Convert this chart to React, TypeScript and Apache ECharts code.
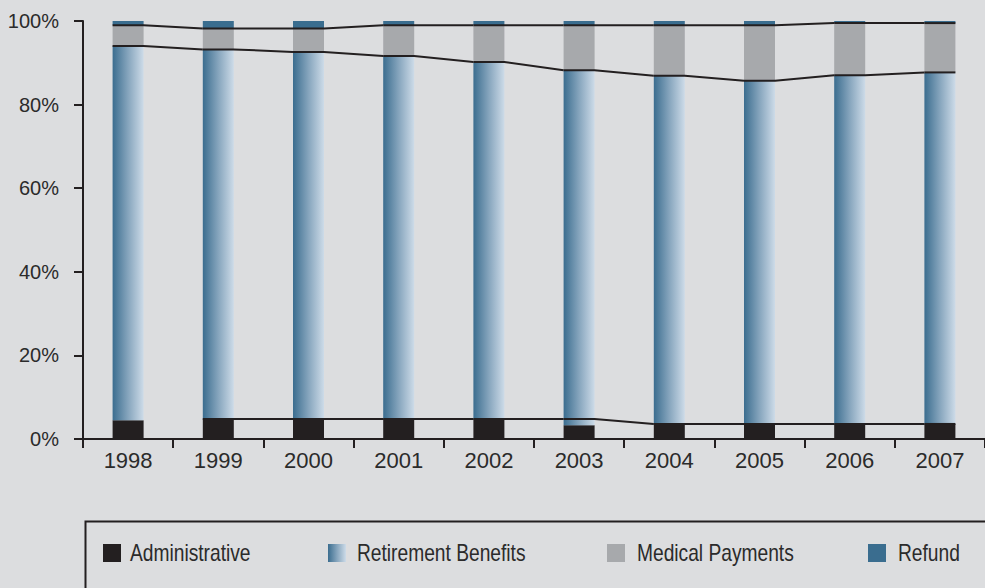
import React, { useEffect, useRef } from "react";
import * as echarts from "echarts";

const years = ["1998", "1999", "2000", "2001", "2002", "2003", "2004", "2005", "2006", "2007"];
const administrative = [4.5, 4.8, 4.8, 4.8, 4.8, 3.3, 3.6, 3.6, 3.6, 3.6];
const retirementBenefits = [89.5, 88.4, 87.8, 86.8, 85.4, 84.9, 83.3, 82.1, 83.4, 84.1];
const medicalPayments = [5.0, 5.0, 5.6, 7.4, 8.8, 10.8, 12.1, 13.3, 12.5, 11.8];
const refund = [1.0, 1.8, 1.8, 1.0, 1.0, 1.0, 1.0, 1.0, 0.5, 0.5];

// series lines drawn across the stacked bars (levels)
const lineUpper = [99.0, 98.2, 98.2, 99.0, 99.0, 99.0, 99.0, 99.0, 99.5, 99.5];
const lineMiddle = [94.0, 93.2, 92.6, 91.6, 90.2, 88.2, 86.9, 85.7, 87.0, 87.7];
const lineLower: (number | null)[] = [null, 4.8, 4.8, 4.8, 4.8, 4.8, 3.6, 3.6, 3.6, 3.6];

const seriesNames = ["Administrative", "Retirement Benefits", "Medical Payments", "Refund"];

const BAR_WIDTH = 31;
const DARK = "#231f20";
const BLUE = "#3a6d8f";
const GREY = "#a7a9ac";
const BG = "#dcdddf";
const TEXT = "#2b2b2b";

function connector(values: (number | null)[]) {
  const data: any[] = [];
  values.forEach((v, i) => {
    if (v == null) return;
    const next = i + 1 < values.length ? values[i + 1] : null;
    data.push([i, v, next == null ? "-" : next]);
  });
  return {
    type: "custom",
    coordinateSystem: "cartesian2d",
    silent: true,
    z: 10,
    encode: { x: 0, y: 1 },
    data,
    renderItem: (params: any, api: any) => {
      const i = api.value(0);
      const v = api.value(1);
      const n = api.value(2);
      const p = api.coord([i, v]);
      const half = BAR_WIDTH / 2;
      const pts: number[][] = [
        [p[0] - half, p[1]],
        [p[0] + half, p[1]],
      ];
      if (typeof n === "number" && !isNaN(n)) {
        const q = api.coord([i + 1, n]);
        pts.push([q[0] - half, q[1]]);
      }
      return {
        type: "polyline",
        shape: { points: pts },
        style: { stroke: DARK, lineWidth: 2, fill: "none" },
      };
    },
  };
}

const retirementGradient = new echarts.graphic.LinearGradient(0, 0, 1, 0, [
  { offset: 0, color: "#3b6d8f" },
  { offset: 0.5, color: "#86a5bd" },
  { offset: 1, color: "#cddbe8" },
]);

const legendIconLeft = [103, 328, 607, 868];
const legendTextLeft = [130, 357, 637, 898];

function legendAt(name: string, left: number) {
  return {
    data: [name],
    left,
    top: 544,
    orient: "horizontal",
    padding: 0,
    itemWidth: 18,
    itemHeight: 18,
    icon: "rect",
    selectedMode: false,
    formatter: () => "",
    textStyle: { fontSize: 1, lineHeight: 18 },
  };
}

function legendText(name: string, left: number) {
  return {
    type: "text",
    x: left,
    y: 553,
    scaleX: 0.8,
    silent: true,
    z: 20,
    style: {
      text: name,
      fill: TEXT,
      font: "24px 'Liberation Sans', sans-serif",
      verticalAlign: "middle",
      align: "left",
    },
  };
}

export default function App() {
  const ref = useRef<HTMLDivElement>(null);
  useEffect(() => {
    if (!ref.current) return;
    const chart = echarts.init(ref.current, null, { renderer: "svg" });
    const barBase = { type: "bar", stack: "total", barWidth: BAR_WIDTH };
    chart.setOption({
      animation: false,
      backgroundColor: BG,
      grid: { left: 83, top: 21, right: -8, bottom: 149, containLabel: false },
      xAxis: {
        type: "category",
        data: years,
        boundaryGap: true,
        axisLine: { show: true, lineStyle: { color: DARK, width: 2 } },
        axisTick: { show: true, length: 9, lineStyle: { color: DARK, width: 2 } },
        axisLabel: {
          margin: 10,
          fontFamily: "'Liberation Sans', sans-serif",
          fontSize: 22,
          color: TEXT,
        },
      },
      yAxis: {
        type: "value",
        min: 0,
        max: 100,
        interval: 20,
        splitLine: { show: false },
        axisLine: { show: true, lineStyle: { color: DARK, width: 2 } },
        axisTick: { show: true, length: 9, lineStyle: { color: DARK, width: 2 } },
        axisLabel: {
          margin: 24,
          formatter: "{value}%",
          fontFamily: "'Liberation Sans', sans-serif",
          fontSize: 20,
          color: TEXT,
        },
      },
      legend: seriesNames.map((n, i) => legendAt(n, legendIconLeft[i])),
      graphic: [
        {
          type: "rect",
          left: 83,
          top: 519,
          shape: { x: 0, y: 0, width: 1000, height: 200 },
          style: { fill: "none", stroke: DARK, lineWidth: 2 },
          silent: true,
          z: 0,
        },
        ...seriesNames.map((n, i) => legendText(n, legendTextLeft[i])),
      ],
      series: [
        { ...barBase, name: seriesNames[0], data: administrative, itemStyle: { color: DARK } },
        { ...barBase, name: seriesNames[1], data: retirementBenefits, itemStyle: { color: retirementGradient } },
        { ...barBase, name: seriesNames[2], data: medicalPayments, itemStyle: { color: GREY } },
        { ...barBase, name: seriesNames[3], data: refund, itemStyle: { color: BLUE } },
        connector(lineUpper),
        connector(lineMiddle),
        connector(lineLower),
      ],
    });
    return () => chart.dispose();
  }, []);
  return (
    <div
      ref={ref}
      style={{ position: "fixed", left: 0, top: 0, width: 985, height: 588 }}
    />
  );
}
